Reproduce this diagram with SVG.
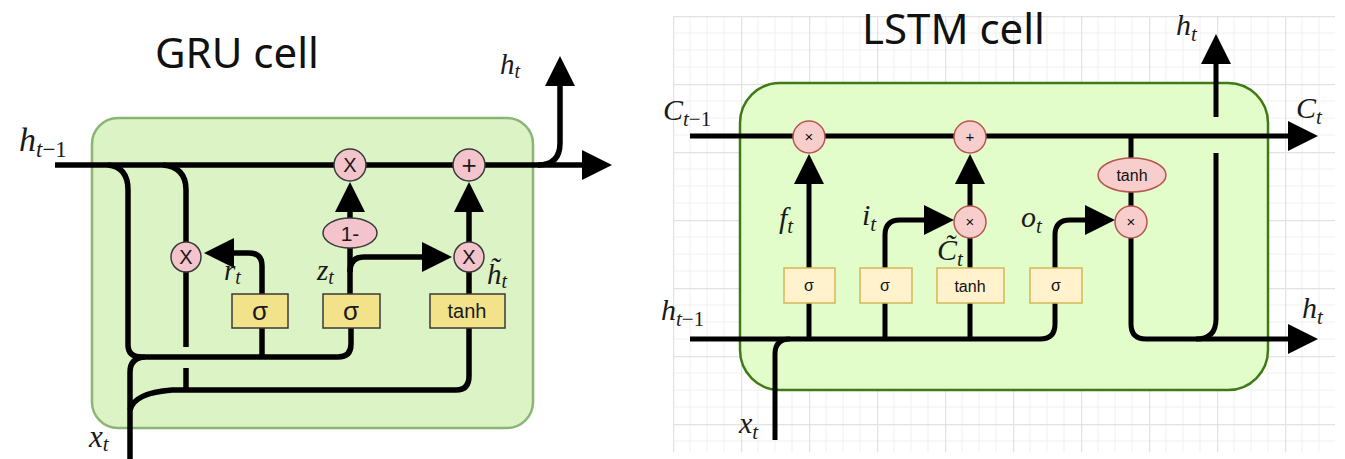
<svg xmlns="http://www.w3.org/2000/svg" width="1345" height="459" viewBox="0 0 1345 459">
<style>
.title{font-family:"Noto Sans","Open Sans",sans-serif;font-size:42px;fill:#111}
.m{font-family:"Liberation Serif","DejaVu Serif",serif;font-style:italic;fill:#1a1a1a}
.up{font-style:normal}
.wire{fill:none;stroke:#000;stroke-width:5.5;stroke-linecap:butt;stroke-linejoin:round}
.wl{fill:none;stroke:#000;stroke-width:5;stroke-linejoin:round}
.gbox{fill:#f2e38a;stroke:#3a3a3a;stroke-width:1.5}
.gop{fill:#f3c4cb;stroke:#3a3a3a;stroke-width:1.5}
.gtx{font-family:"Liberation Sans","DejaVu Sans",sans-serif;fill:#1a1a1a;text-anchor:middle}
.lbox{fill:#fff2cc;stroke:#d6b656;stroke-width:1.5}
.lop{fill:#f8cecc;stroke:#b85450;stroke-width:1.5}
.ltx{font-family:"Liberation Sans","DejaVu Sans",sans-serif;fill:#111;text-anchor:middle}
</style>
<defs>
<marker id="ah" markerUnits="userSpaceOnUse" markerWidth="30" markerHeight="30" viewBox="0 0 28 28" refX="14" refY="14" orient="auto">
<path d="M0,0 L28,14 L0,28 z" fill="#000"/>
</marker>
<marker id="ahs" markerUnits="userSpaceOnUse" markerWidth="30" markerHeight="30" viewBox="0 0 30 30" refX="16" refY="15" orient="auto">
<path d="M0,0 L30,15 L0,30 z" fill="#000"/>
</marker>
<pattern id="grid" patternUnits="userSpaceOnUse" x="673" y="16" width="68" height="68">
<path d="M17,0V68M34,0V68M51,0V68M0,17H68M0,34H68M0,51H68" stroke="#f0f0f0" stroke-width="1" fill="none"/>
<path d="M0.5,0V68M0,0.5H68" stroke="#e2e2e2" stroke-width="1.5" fill="none"/>
</pattern>
</defs>
<rect width="1345" height="459" fill="#fff"/>

<!-- ===== GRU ===== -->
<g id="gru-title"><text class="title" x="155" y="68">GRU cell</text></g>
<g id="gru-cell"><rect x="92" y="118" width="441" height="310" rx="26" fill="#dcf3c6" stroke="#8cb575" stroke-width="2.5"/></g>

<g id="gru-connectors">
<path class="wire" d="M55,165 H598" marker-end="url(#ahs)"/>
<path class="wire" d="M538,165 Q560,165 560,143 V70" marker-end="url(#ahs)"/>
<path class="wire" d="M108,165 Q128,167 128,190 V345 Q128,357 142,357 H338 Q351,357 351,344 V327"/>
<path class="wire" d="M262,357 V327"/>
<path class="wire" d="M130,459 V372 Q130,358 145,357"/>
<path class="wire" d="M130,410 Q134,393 172,390 H456 Q469,390 469,376 V327"/>
<path class="wire" d="M163,165 Q186,167 186,190 V347"/>
<path class="wire" d="M186,368 V390"/>
<path class="wire" d="M262,294 V266 Q262,253 249,253 H218" marker-end="url(#ahs)"/>
<path class="wire" d="M350,294 V248"/>
<path class="wire" d="M350,218 V196" marker-end="url(#ahs)"/>
<path class="wire" d="M350,272 Q350,257 364,257 H438" marker-end="url(#ahs)"/>
<path class="wire" d="M469,294 V272"/>
<path class="wire" d="M469,242 V196" marker-end="url(#ahs)"/>
</g>

<g id="gru-r-mul"><circle class="gop" cx="186" cy="257" r="15"/><text class="gtx" x="186" y="264" font-size="20">X</text></g>
<g id="gru-z-mul"><circle class="gop" cx="350" cy="165" r="16"/><text class="gtx" x="350" y="172" font-size="20">X</text></g>
<g id="gru-plus"><circle class="gop" cx="469" cy="165" r="16"/><text class="gtx" x="469" y="174" font-size="26">+</text></g>
<g id="gru-h-mul"><circle class="gop" cx="469" cy="257" r="15"/><text class="gtx" x="469" y="264" font-size="20">X</text></g>
<g id="gru-one-minus"><ellipse class="gop" cx="350" cy="233" rx="27" ry="15"/><text class="gtx" x="350" y="241" font-size="21">1-</text></g>
<g id="gru-sigma-r"><rect class="gbox" x="232" y="294" width="56" height="34"/><text class="gtx" x="260" y="320" font-size="26">σ</text></g>
<g id="gru-sigma-z"><rect class="gbox" x="323" y="294" width="57" height="34"/><text class="gtx" x="351" y="320" font-size="26">σ</text></g>
<g id="gru-tanh"><rect class="gbox" x="430" y="294" width="75" height="34"/><text class="gtx" x="467" y="318" font-size="20">tanh</text></g>

<g id="gru-labels">
<text class="m" x="19" y="151" font-size="34">h<tspan font-size="23" dy="6">t<tspan class="up">−1</tspan></tspan></text>
<text class="m" x="500" y="74" font-size="29">h<tspan font-size="20" dy="4">t</tspan></text>
<text class="m" x="89" y="447" font-size="31">x<tspan font-size="21" dy="4">t</tspan></text>
<text class="m" x="224" y="280" font-size="29">r<tspan font-size="20" dy="4">t</tspan></text>
<text class="m" x="317" y="280" font-size="29">z<tspan font-size="20" dy="4">t</tspan></text>
<text class="m" x="487" y="284" font-size="29">h̃<tspan font-size="20" dy="4">t</tspan></text>
</g>

<!-- ===== LSTM ===== -->
<rect x="673" y="16" width="662" height="436" fill="url(#grid)"/>
<g id="lstm-title"><text class="title" x="862" y="44">LSTM cell</text></g>
<g id="lstm-cell"><rect x="740" y="83" width="528" height="307" rx="40" fill="#e2fcca" stroke="#3f7a17" stroke-width="2.5"/></g>

<g id="lstm-connectors">
<path class="wl" d="M690,136 H1303" marker-end="url(#ah)"/>
<path class="wl" d="M809,339 V169" marker-end="url(#ah)"/>
<path class="wl" d="M885,339 V235 Q885,220 900,220 H939" marker-end="url(#ah)"/>
<path class="wl" d="M970,339 V238"/>
<path class="wl" d="M970,206 V169" marker-end="url(#ah)"/>
<path class="wl" d="M690,339 H1040 Q1055,339 1055,324 V235 Q1055,220 1070,220 H1100" marker-end="url(#ah)"/>
<path class="wl" d="M1131,136 V206"/>
<path class="wl" d="M1131,238 V324 Q1131,339 1146,339 H1303" marker-end="url(#ah)"/>
<path class="wl" d="M1196,339 Q1216,339 1216,319 V153"/>
<path class="wl" d="M1216,117 V49" marker-end="url(#ah)"/>
<path class="wl" d="M775,440 V354 Q775,339 790,339"/>
</g>

<g id="lstm-f-mul"><circle class="lop" cx="809" cy="137" r="16"/><text class="ltx" x="809" y="142" font-size="15">×</text></g>
<g id="lstm-plus"><circle class="lop" cx="970" cy="137" r="16"/><text class="ltx" x="970" y="142" font-size="15">+</text></g>
<g id="lstm-i-mul"><circle class="lop" cx="970" cy="222" r="16"/><text class="ltx" x="970" y="227" font-size="15">×</text></g>
<g id="lstm-o-mul"><circle class="lop" cx="1131" cy="222" r="16"/><text class="ltx" x="1131" y="227" font-size="15">×</text></g>
<g id="lstm-tanh-c"><ellipse class="lop" cx="1132" cy="175" rx="34" ry="17"/><text class="ltx" x="1132" y="181" font-size="16">tanh</text></g>
<g id="lstm-sigma-f"><rect class="lbox" x="784" y="268" width="51" height="35"/><text class="ltx" x="809" y="291" font-size="16">σ</text></g>
<g id="lstm-sigma-i"><rect class="lbox" x="860" y="268" width="52" height="35"/><text class="ltx" x="885" y="291" font-size="16">σ</text></g>
<g id="lstm-tanh"><rect class="lbox" x="937" y="268" width="67" height="35"/><text class="ltx" x="970" y="292" font-size="16">tanh</text></g>
<g id="lstm-sigma-o"><rect class="lbox" x="1030" y="268" width="52" height="35"/><text class="ltx" x="1056" y="291" font-size="16">σ</text></g>

<g id="lstm-labels">
<text class="m" x="663" y="120" font-size="30">C<tspan font-size="21" dy="6">t<tspan class="up">−1</tspan></tspan></text>
<text class="m" x="661" y="320" font-size="30">h<tspan font-size="21" dy="6">t<tspan class="up">−1</tspan></tspan></text>
<text class="m" x="779" y="228" font-size="30">f<tspan font-size="21" dy="5">t</tspan></text>
<text class="m" x="862" y="225" font-size="30">i<tspan font-size="21" dy="6">t</tspan></text>
<text class="m" x="937" y="260" font-size="30">C̃<tspan font-size="21" dy="6">t</tspan></text>
<text class="m" x="1021" y="227" font-size="30">o<tspan font-size="21" dy="6">t</tspan></text>
<text class="m" x="1176" y="35" font-size="30">h<tspan font-size="21" dy="6">t</tspan></text>
<text class="m" x="1296" y="118" font-size="30">C<tspan font-size="21" dy="6">t</tspan></text>
<text class="m" x="1302" y="318" font-size="30">h<tspan font-size="21" dy="6">t</tspan></text>
<text class="m" x="739" y="433" font-size="30">x<tspan font-size="21" dy="6">t</tspan></text>
</g>
</svg>
